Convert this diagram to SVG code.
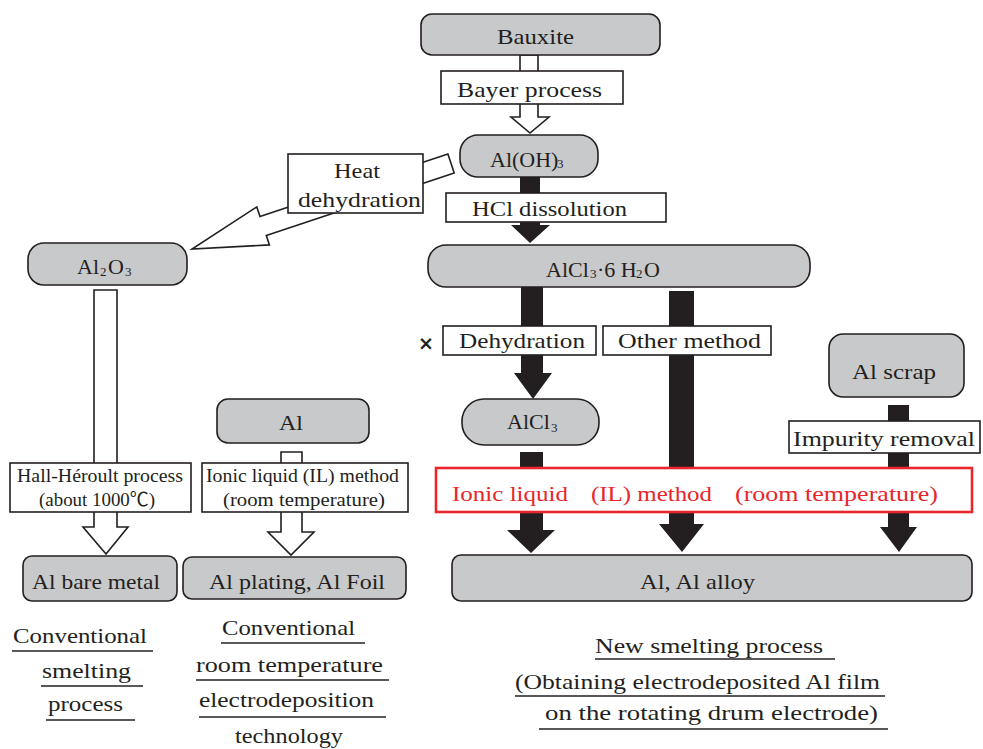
<svg xmlns="http://www.w3.org/2000/svg" width="983" height="749" viewBox="0 0 983 749">
<style>
.g{fill:#c8c9ca;stroke:#231f20;stroke-width:1.6}
.w{fill:#fff;stroke:#231f20;stroke-width:1.6}
.k{fill:#231f20;stroke:none}
.ha{fill:#fff;stroke:#231f20;stroke-width:1.6;stroke-linejoin:miter}
.r{fill:#fff;stroke:#e8262b;stroke-width:2.6}
.t{font-family:"Liberation Serif","Noto Sans CJK JP",serif;font-size:22px;fill:#231f20}
.s{font-size:19px}
.sb{font-size:13px}
.red{fill:#e8262b}
.u{stroke:#231f20;stroke-width:1.3}
</style>
<g id="connectors">
<polygon class="ha" points="520,55 538,55 538,117 549,117 530,133 511,117 520,117"/>
<polygon class="ha" points="447.9,154 454.2,173 266.3,235.4 269.4,244.9 192,249 256.8,206.9 260,216.4"/>
<polygon class="ha" points="94,290 117,290 117,527 128,527 106,554 83,527 94,527"/>
<polygon class="ha" points="281,452 302,452 302,532 314,532 291,555 268,532 281,532"/>
<polygon class="k" points="520,177 540,177 540,225 550,225 530,243 511,225 520,225"/>
<polygon class="k" points="521,287 543,287 543,373 552,373 533,399 514,373 521,373"/>
<polygon class="k" points="520,452 543,452 543,530 555,530 531,553 507,530 520,530"/>
<polygon class="k" points="669,291 694,291 694,524 704,524 682,552 659,524 669,524"/>
<polygon class="k" points="888,405 909,405 909,527 917,527 899,552 880,527 888,527"/>
</g>
<g id="bauxite"><rect class="g" x="421" y="14" width="239" height="41" rx="11"/><text class="t" x="497" y="44" textLength="77" lengthAdjust="spacingAndGlyphs">Bauxite</text></g>
<g id="bayer"><rect class="w" x="441" y="71" width="182" height="33"/><text class="t" x="457" y="97" textLength="145" lengthAdjust="spacingAndGlyphs">Bayer process</text></g>
<g id="aloh3"><rect class="g" x="460" y="135" width="138" height="42" rx="18"/><text class="t" y="167"><tspan x="490">Al(OH)</tspan><tspan class="sb" x="557" dy="1">3</tspan></text></g>
<g id="hcl"><rect class="w" x="446" y="193" width="220" height="29"/><text class="t" x="472" y="216" textLength="155" lengthAdjust="spacingAndGlyphs">HCl dissolution</text></g>
<g id="alcl3h2o"><rect class="g" x="428" y="245" width="382" height="42" rx="18"/><text class="t" y="277"><tspan x="546">AlCl</tspan><tspan class="sb" x="590" dy="1">3</tspan><tspan x="597" dy="-1">·6 H</tspan><tspan class="sb" x="636" dy="1">2</tspan><tspan x="644" dy="-1">O</tspan></text></g>
<g id="heat"><rect class="w" x="288" y="154" width="135" height="59"/><text class="t" x="334" y="178" textLength="46" lengthAdjust="spacingAndGlyphs">Heat</text><text class="t" x="298" y="207" textLength="123" lengthAdjust="spacingAndGlyphs">dehydration</text></g>
<g id="al2o3"><rect class="g" x="28" y="243" width="159" height="42" rx="16"/><text class="t" y="274"><tspan x="77">Al</tspan><tspan class="sb" x="100" dy="2">2</tspan><tspan x="108" dy="-2">O</tspan><tspan class="sb" x="125" dy="2">3</tspan></text></g>
<g id="hall"><rect class="w" x="10" y="463" width="181" height="49"/><text class="t s" x="17" y="482" textLength="166" lengthAdjust="spacingAndGlyphs">Hall-Héroult process</text><text class="t s" x="39" y="506" textLength="116" lengthAdjust="spacingAndGlyphs">(about 1000℃)</text></g>
<g id="al"><rect class="g" x="217" y="399" width="152" height="44" rx="11"/><text class="t" x="279" y="430" textLength="24" lengthAdjust="spacingAndGlyphs">Al</text></g>
<g id="ionic"><rect class="w" x="202" y="463" width="206" height="49"/><text class="t s" x="206" y="482" textLength="193" lengthAdjust="spacingAndGlyphs">Ionic liquid (IL) method</text><text class="t s" x="223" y="506" textLength="162" lengthAdjust="spacingAndGlyphs">(room temperature)</text></g>
<g id="baremetal"><rect class="g" x="23" y="556" width="154" height="45" rx="9"/><text class="t" x="32" y="589" textLength="128" lengthAdjust="spacingAndGlyphs">Al bare metal</text></g>
<g id="plating"><rect class="g" x="183" y="557" width="223" height="42" rx="9"/><text class="t" x="209" y="589" textLength="176" lengthAdjust="spacingAndGlyphs">Al plating, Al Foil</text></g>
<g id="cross"><text x="426" y="350" text-anchor="middle" style="font-family:'DejaVu Sans',sans-serif;font-size:19px;font-weight:bold;fill:#231f20">×</text></g>
<g id="dehydration"><rect class="w" x="443" y="326" width="153" height="29"/><text class="t" x="459" y="348" textLength="126" lengthAdjust="spacingAndGlyphs">Dehydration</text></g>
<g id="othermethod"><rect class="w" x="603" y="326" width="168" height="29"/><text class="t" x="618" y="348" textLength="143" lengthAdjust="spacingAndGlyphs">Other method</text></g>
<g id="alcl3"><rect class="g" x="462" y="399" width="137" height="46" rx="22"/><text class="t" y="429"><tspan x="507">AlCl</tspan><tspan class="sb" x="551" dy="3">3</tspan></text></g>
<g id="alscrap"><rect class="g" x="829" y="334" width="135" height="63" rx="14"/><text class="t" x="852" y="379" textLength="84" lengthAdjust="spacingAndGlyphs">Al scrap</text></g>
<g id="impurity"><rect class="w" x="789" y="421" width="191" height="32"/><text class="t" x="793" y="446" textLength="182" lengthAdjust="spacingAndGlyphs">Impurity removal</text></g>
<g id="ilmethod"><rect class="r" x="436" y="468" width="536" height="44"/><text class="t red" x="452" y="501" textLength="116" lengthAdjust="spacingAndGlyphs">Ionic liquid</text><text class="t red" x="591" y="501" textLength="121" lengthAdjust="spacingAndGlyphs">(IL) method</text><text class="t red" x="735" y="501" textLength="203" lengthAdjust="spacingAndGlyphs">(room temperature)</text></g>
<g id="alalloy"><rect class="g" x="452" y="555" width="520" height="46" rx="9"/><text class="t" x="640" y="589" textLength="115" lengthAdjust="spacingAndGlyphs">Al, Al alloy</text></g>
<g id="caption-conventional">
<text class="t" x="13" y="643" textLength="134" lengthAdjust="spacingAndGlyphs">Conventional</text><line class="u" x1="12" y1="651" x2="153" y2="651"/>
<text class="t" x="42" y="678" textLength="89" lengthAdjust="spacingAndGlyphs">smelting</text><line class="u" x1="41" y1="686" x2="143" y2="686"/>
<text class="t" x="48" y="711" textLength="75" lengthAdjust="spacingAndGlyphs">process</text><line class="u" x1="46" y1="720" x2="135" y2="720"/>
</g>
<g id="caption-roomtemp">
<text class="t" x="222" y="635" textLength="133" lengthAdjust="spacingAndGlyphs">Conventional</text><line class="u" x1="221" y1="643" x2="365" y2="643"/>
<text class="t" x="196" y="672" textLength="187" lengthAdjust="spacingAndGlyphs">room temperature</text><line class="u" x1="196" y1="680" x2="389" y2="680"/>
<text class="t" x="199" y="707" textLength="175" lengthAdjust="spacingAndGlyphs">electrodeposition</text><line class="u" x1="199" y1="717" x2="386" y2="717"/>
<text class="t" x="235" y="743" textLength="108" lengthAdjust="spacingAndGlyphs">technology</text>
</g>
<g id="caption-new">
<text class="t" x="595" y="653" textLength="228" lengthAdjust="spacingAndGlyphs">New smelting process</text><line class="u" x1="595" y1="659" x2="835" y2="659"/>
<text class="t" x="515" y="689" textLength="365" lengthAdjust="spacingAndGlyphs">(Obtaining electrodeposited Al film</text><line class="u" x1="515" y1="696" x2="885" y2="696"/>
<text class="t" x="545" y="720" textLength="333" lengthAdjust="spacingAndGlyphs">on the rotating drum electrode)</text><line class="u" x1="539" y1="729" x2="888" y2="729"/>
</g>
</svg>
